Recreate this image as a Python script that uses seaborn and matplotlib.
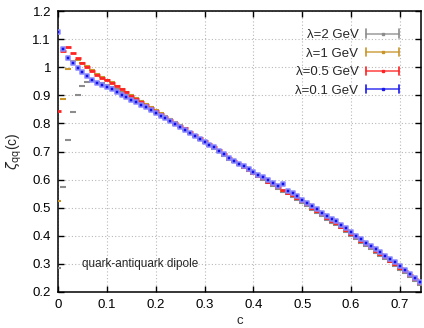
import numpy as np
import pandas as pd
import matplotlib
matplotlib.use("Agg")
import matplotlib.pyplot as plt
import seaborn as sns
from matplotlib.legend_handler import HandlerBase
from matplotlib.lines import Line2D

# ---------------- data ----------------
c_vals = [round(0.01 * i, 2) for i in range(75)]

zeta_l2 = [0.285, 0.572, 0.742, 0.842, 0.900, 0.932, 0.948, 0.950, 0.947, 0.943,
           0.937, 0.930, 0.921, 0.911, 0.901, 0.891, 0.881, 0.871, 0.860, 0.849,
           0.838, 0.827, 0.818, 0.807, 0.796, 0.786, 0.775, 0.764, 0.753, 0.742,
           0.731, 0.720, 0.710, 0.698, 0.685, 0.671, 0.661, 0.651, 0.641, 0.630,
           0.619, 0.609, 0.599, 0.588, 0.577, 0.566, 0.557, 0.547, 0.539, 0.528,
           0.516, 0.505, 0.493, 0.481, 0.469, 0.458, 0.447, 0.437, 0.426, 0.414,
           0.401, 0.387, 0.375, 0.363, 0.352, 0.340, 0.328, 0.316, 0.305, 0.293,
           0.279, 0.266, 0.252, 0.239, 0.226]
zeta_l1 = [0.525, 0.886, 0.993, 1.021, 1.026, 1.016, 1.003, 0.989, 0.976, 0.966,
           0.956, 0.946, 0.934, 0.923, 0.912, 0.901, 0.890, 0.879, 0.868, 0.857,
           0.847, 0.836, 0.826, 0.815, 0.804, 0.793, 0.782, 0.771, 0.760, 0.749,
           0.738, 0.727, 0.717, 0.705, 0.692, 0.678, 0.667, 0.656, 0.645, 0.634,
           0.623, 0.613, 0.603, 0.592, 0.581, 0.570, 0.561, 0.551, 0.543, 0.532,
           0.520, 0.509, 0.497, 0.485, 0.473, 0.462, 0.451, 0.441, 0.430, 0.418,
           0.405, 0.391, 0.379, 0.367, 0.356, 0.344, 0.332, 0.320, 0.309, 0.297,
           0.283, 0.270, 0.256, 0.243, 0.230]
zeta_l05 = [0.843, 1.058, 1.071, 1.050, 1.032, 1.015, 1.000, 0.986, 0.973, 0.963,
            0.953, 0.944, 0.932, 0.921, 0.910, 0.899, 0.888, 0.877, 0.866, 0.855,
            0.845, 0.834, 0.824, 0.813, 0.802, 0.792, 0.782, 0.771, 0.760, 0.749,
            0.738, 0.727, 0.717, 0.705, 0.692, 0.678, 0.667, 0.656, 0.646, 0.634,
            0.624, 0.614, 0.604, 0.593, 0.583, 0.572, 0.563, 0.554, 0.546, 0.535,
            0.523, 0.512, 0.500, 0.488, 0.476, 0.465, 0.454, 0.444, 0.433, 0.421,
            0.408, 0.394, 0.382, 0.370, 0.359, 0.347, 0.335, 0.323, 0.312, 0.300,
            0.286, 0.273, 0.259, 0.246, 0.233]
zeta_l01 = [1.125, 1.063, 1.033, 1.014, 0.998, 0.982, 0.967, 0.953, 0.943, 0.935,
            0.928, 0.921, 0.913, 0.902, 0.893, 0.884, 0.876, 0.866, 0.857, 0.846,
            0.838, 0.828, 0.818, 0.808, 0.797, 0.787, 0.777, 0.766, 0.756, 0.745,
            0.734, 0.724, 0.715, 0.703, 0.690, 0.676, 0.667, 0.657, 0.650, 0.638,
            0.628, 0.618, 0.609, 0.598, 0.588, 0.577, 0.583, 0.559, 0.551, 0.540,
            0.529, 0.518, 0.506, 0.494, 0.482, 0.471, 0.460, 0.451, 0.440, 0.428,
            0.414, 0.400, 0.388, 0.376, 0.365, 0.353, 0.341, 0.329, 0.318, 0.306,
            0.292, 0.278, 0.264, 0.250, 0.236]

series_labels = ["λ=2 GeV", "λ=1 GeV", "λ=0.5 GeV", "λ=0.1 GeV"]
series_colors = ["#8c8c8c", "#c9952a", "#ff2222", "#1a1aee"]

x_ticks = [0, 0.1, 0.2, 0.3, 0.4, 0.5, 0.6, 0.7]
x_ticklabels = ["0", "0.1", "0.2", "0.3", "0.4", "0.5", "0.6", "0.7"]
y_ticks = [0.2, 0.3, 0.4, 0.5, 0.6, 0.7, 0.8, 0.9, 1.0, 1.1, 1.2]
y_ticklabels = ["0.2", "0.3", "0.4", "0.5", "0.6", "0.7", "0.8", "0.9", "1", "1.1", "1.2"]

annotation = "quark-antiquark dipole"

# ---------------- style ----------------
sns.set_style("ticks")
plt.rcParams["font.family"] = ["Liberation Sans", "DejaVu Sans"]
plt.rcParams["mathtext.fontset"] = "dejavusans"

fig = plt.figure(figsize=(4.24, 3.28), dpi=100)
ax = fig.add_axes([58 / 424, 1 - 292 / 328, 363 / 424, 281 / 328])

df = pd.DataFrame({"c": c_vals, "l2": zeta_l2, "l1": zeta_l1,
                   "l05": zeta_l05, "l01": zeta_l01})

# dash-like points (error bar caps collapsed) for first three series
for key, col, lw in [("l2", series_colors[0], 1.5), ("l1", series_colors[1], 1.5),
                     ("l05", series_colors[2], 2.0)]:
    sns.scatterplot(data=df, x="c", y=key, marker="_", s=14, color=col,
                    linewidth=lw, ax=ax, zorder=3, legend=False)

# blue: dark square with light halo
sns.scatterplot(data=df, x="c", y="l01", marker="s", s=8, color="#1010e8",
                edgecolor="#8a8aff", linewidth=1.1, ax=ax, zorder=4, legend=False)

ax.set_xlim(0, 0.743)
ax.set_ylim(0.2, 1.2)
ax.set_xticks(x_ticks)
ax.set_xticklabels(x_ticklabels)
ax.set_yticks(y_ticks)
ax.set_yticklabels(y_ticklabels)
ax.tick_params(direction="in", top=True, right=True, length=4, width=1,
               labelsize=9.5, colors="black", pad=5)
for s in ax.spines.values():
    s.set_linewidth(1.1)
    s.set_color("black")
ax.grid(True, linestyle=(0, (1, 2)), color="#b8b8b8", linewidth=0.8)
ax.set_axisbelow(True)

ax.set_xlabel("c", fontsize=9.5, labelpad=3)
ax.set_ylabel(r"$\zeta_{\rm qq}$(c)", fontsize=10, labelpad=6)

ax.text(0.049, 0.30, annotation, fontsize=8.5, va="center", ha="left")


# ---------------- legend (gnuplot-like error bar samples) ----------------
class ErrbarHandler(HandlerBase):
    def create_artists(self, legend, orig_handle, xdescent, ydescent, width,
                       height, fontsize, trans):
        col = orig_handle.get_color()
        y = height / 2 - ydescent
        x0, x1 = -xdescent, -xdescent + width
        h = 3.0
        art = [Line2D([x0, x1], [y, y], color=col, lw=1.2, alpha=0.8),
               Line2D([x0, x0], [y - h, y + h], color=col, lw=1.2),
               Line2D([x1, x1], [y - h, y + h], color=col, lw=1.2),
               Line2D([(x0 + x1) / 2], [y], color=col, marker="s", ms=2.0, lw=0)]
        for a in art:
            a.set_transform(trans)
        return art


handles = [Line2D([], [], color=col) for col in series_colors]
leg = ax.legend(handles, series_labels, handler_map={Line2D: ErrbarHandler()},
                loc="upper right", bbox_to_anchor=(0.955, 0.955),
                markerfirst=False, frameon=False, fontsize=9.5,
                handlelength=2.5, handletextpad=0.6, labelspacing=0.48,
                borderaxespad=0.0)

fig.savefig("out.png", dpi=100)
